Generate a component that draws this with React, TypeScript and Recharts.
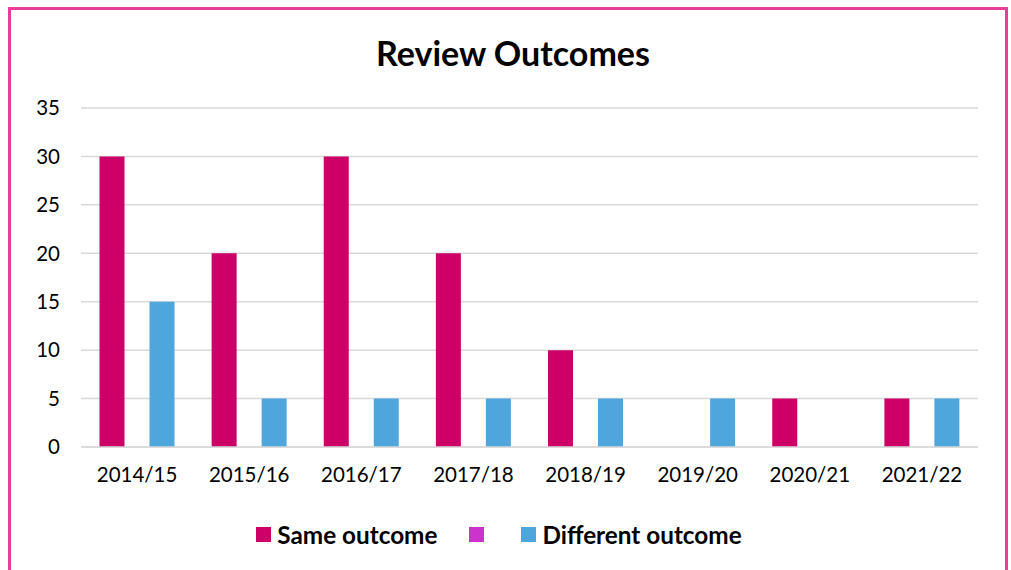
import { BarChart, Bar, XAxis, YAxis, CartesianGrid, Legend } from "recharts";

const categories = ["2014/15", "2015/16", "2016/17", "2017/18", "2018/19", "2019/20", "2020/21", "2021/22"];
const sameOutcome = [30, 20, 30, 20, 10, 0, 5, 5];
const blankSeries = [null, null, null, null, null, null, null, null];
const differentOutcome = [15, 5, 5, 5, 5, 5, 0, 5];
const yTicks = [0, 5, 10, 15, 20, 25, 30, 35];

const data = categories.map((year, i) => ({
  year,
  same: sameOutcome[i],
  blank: blankSeries[i],
  different: differentOutcome[i],
}));

const FONT = "Lato, 'Noto Sans', sans-serif";
const seriesOrder = ["same", "blank", "different"];
const itemGaps = [32, 37, 0];

const renderLegend = (props: any) => {
  const items = [...props.payload].sort(
    (a: any, b: any) => seriesOrder.indexOf(a.dataKey) - seriesOrder.indexOf(b.dataKey)
  );
  return (
    <div
      style={{
        display: "flex",
        justifyContent: "center",
        alignItems: "center",
        fontFamily: FONT,
        fontWeight: 700,
        fontSize: 24.3,
        color: "#000",
        paddingLeft: 20,
      }}
    >
      {items.map((entry: any, i: number) => (
        <div key={i} style={{ display: "flex", alignItems: "center", marginRight: itemGaps[i] }}>
          <span
            style={{
              width: 15,
              height: 15,
              background: entry.color,
              display: "inline-block",
              marginRight: entry.value ? 6 : 0,
            }}
          />
          {entry.value ? <span>{entry.value}</span> : null}
        </div>
      ))}
    </div>
  );
};

export default function App() {
  return (
    <div style={{ position: "absolute", left: 0, top: 0, width: 1011, height: 570, background: "#fff", overflow: "hidden" }}>
      <div
        style={{
          position: "absolute",
          left: 8,
          top: 7,
          width: 994,
          height: 600,
          border: "3px solid #E8409A",
        }}
      />
      <div
        style={{
          position: "absolute",
          left: 0,
          width: 1026,
          top: 32,
          textAlign: "center",
          fontFamily: FONT,
          fontWeight: 700,
          fontSize: 34,
          color: "#000",
        }}
      >
        Review Outcomes
      </div>
      <div style={{ position: "absolute", left: 0, top: 0 }}>
        <BarChart
          width={1011}
          height={570}
          data={data}
          margin={{ top: 108, right: 33, bottom: 0, left: 0 }}
          barGap={0}
          barCategoryGap="16.5%"
        >
          <CartesianGrid vertical={false} stroke="#D9D9D9" strokeWidth={1.5} />
          <XAxis
            dataKey="year"
            axisLine={{ stroke: "#D9D9D9", strokeWidth: 1.5 }}
            tickLine={false}
            height={73}
            tickMargin={14}
            tick={{ fill: "#000", fontSize: 20.5, fontFamily: FONT }}
          />
          <YAxis
            domain={[0, 35]}
            ticks={yTicks}
            width={81}
            axisLine={false}
            tickLine={false}
            tickMargin={15}
            tick={{ fill: "#000", fontSize: 20.5, fontFamily: FONT }}
          />
          <Legend verticalAlign="bottom" height={50} content={renderLegend} />
          <Bar dataKey="same" name="Same outcome" fill="#CC0066" isAnimationActive={false} />
          <Bar dataKey="blank" name="" fill="#CC33CC" isAnimationActive={false} />
          <Bar dataKey="different" name="Different outcome" fill="#4FA6DC" isAnimationActive={false} />
        </BarChart>
      </div>
    </div>
  );
}
